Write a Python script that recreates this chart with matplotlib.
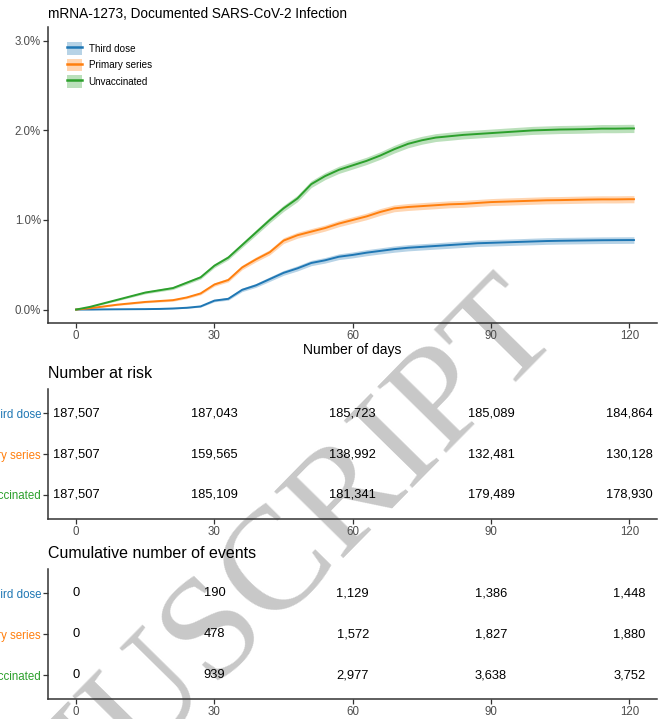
import numpy as np
import matplotlib
matplotlib.use("Agg")
import matplotlib.pyplot as plt
from matplotlib.patches import Patch
from matplotlib.lines import Line2D
from matplotlib.ticker import FuncFormatter

plt.rcParams["font.family"] = ["Liberation Sans", "DejaVu Sans"]

# ---- data -------------------------------------------------------------
groups = ["Third dose", "Primary series", "Unvaccinated"]
colors = ["#1f77b4", "#ff7f0e", "#2ca02c"]

days = np.array([0, 3, 6, 9, 12, 15, 18, 21, 24, 27, 30, 33, 36, 39, 42, 45,
                 48, 51, 54, 57, 60, 63, 66, 69, 72, 75, 78, 81, 84, 87, 90,
                 93, 96, 99, 102, 105, 108, 111, 114, 117, 120, 121])

# cumulative incidence, %
cum_third = [0, 0, 0.002, 0.003, 0.004, 0.005, 0.007, 0.012, 0.02, 0.035,
             0.10, 0.12, 0.22, 0.27, 0.34, 0.41, 0.46, 0.52, 0.55, 0.59,
             0.61, 0.635, 0.655, 0.675, 0.69, 0.70, 0.71, 0.72, 0.73, 0.74,
             0.745, 0.75, 0.755, 0.76, 0.765, 0.768, 0.77, 0.772, 0.774,
             0.775, 0.776, 0.776]
cum_primary = [0, 0.015, 0.035, 0.055, 0.07, 0.085, 0.095, 0.105, 0.135, 0.18,
               0.28, 0.33, 0.47, 0.56, 0.64, 0.77, 0.83, 0.87, 0.91, 0.96,
               1.00, 1.04, 1.09, 1.13, 1.145, 1.155, 1.165, 1.175, 1.18, 1.19,
               1.20, 1.205, 1.21, 1.215, 1.22, 1.222, 1.225, 1.228, 1.23,
               1.23, 1.232, 1.232]
cum_unvacc = [0, 0.03, 0.07, 0.11, 0.15, 0.19, 0.215, 0.24, 0.30, 0.36,
              0.49, 0.58, 0.72, 0.86, 1.00, 1.13, 1.24, 1.40, 1.49, 1.56,
              1.61, 1.66, 1.72, 1.79, 1.85, 1.89, 1.92, 1.935, 1.95, 1.96,
              1.97, 1.98, 1.99, 2.00, 2.005, 2.01, 2.012, 2.015, 2.02,
              2.02, 2.022, 2.022]

# half-width of the 95% confidence band, %
ci_third = [0, 0, 0.002, 0.002, 0.003, 0.003, 0.004, 0.005, 0.006, 0.008,
            0.013, 0.015, 0.020, 0.022, 0.025, 0.027, 0.029, 0.030, 0.031,
            0.032, 0.033, 0.034, 0.034, 0.035, 0.035, 0.035, 0.035, 0.036,
            0.036, 0.036, 0.036, 0.036, 0.036, 0.037, 0.037, 0.037, 0.037,
            0.037, 0.037, 0.037, 0.037, 0.037]
ci_primary = [0, 0.004, 0.007, 0.008, 0.010, 0.010, 0.011, 0.012, 0.013,
              0.015, 0.019, 0.021, 0.025, 0.027, 0.029, 0.032, 0.033, 0.034,
              0.034, 0.035, 0.036, 0.037, 0.038, 0.038, 0.039, 0.039, 0.039,
              0.039, 0.039, 0.039, 0.039, 0.040, 0.040, 0.040, 0.040, 0.040,
              0.040, 0.040, 0.040, 0.040, 0.040, 0.040]
ci_unvacc = [0, 0.006, 0.009, 0.011, 0.012, 0.014, 0.015, 0.016, 0.018,
             0.019, 0.022, 0.024, 0.027, 0.030, 0.032, 0.034, 0.036, 0.038,
             0.039, 0.040, 0.041, 0.041, 0.042, 0.043, 0.044, 0.044, 0.044,
             0.045, 0.045, 0.045, 0.045, 0.045, 0.045, 0.045, 0.045, 0.045,
             0.045, 0.045, 0.046, 0.046, 0.046, 0.046]

table_days = [0, 30, 60, 90, 120]
at_risk_third = [187507, 187043, 185723, 185089, 184864]
at_risk_primary = [187507, 159565, 138992, 132481, 130128]
at_risk_unvacc = [187507, 185109, 181341, 179489, 178930]
events_third = [0, 190, 1129, 1386, 1448]
events_primary = [0, 478, 1572, 1827, 1880]
events_unvacc = [0, 939, 2977, 3638, 3752]

y_ticks = [0, 1, 2, 3]

# ---- layout helpers ---------------------------------------------------
W, H = 670, 719
fig = plt.figure(figsize=(W / 100, H / 100), dpi=100)


def box(left, top, right, bottom):
    return [left / W, 1 - bottom / H, (right - left) / W, (bottom - top) / H]


AXIS_COL = "#333333"
TICK_TXT = "#4d4d4d"
XLIM = (-6.1, 126.0)


def style_axes(a):
    a.patch.set_visible(False)
    for s in ("top", "right"):
        a.spines[s].set_visible(False)
    for s in ("left", "bottom"):
        a.spines[s].set_color(AXIS_COL)
        a.spines[s].set_linewidth(1.1)
    a.tick_params(axis="both", length=3.5, width=0.9, color=AXIS_COL,
                  labelcolor=TICK_TXT, labelsize=8.3, pad=1.5)


# ---- cumulative incidence curves ---------------------------------------
ax = fig.add_axes(box(48, 27.4, 657, 323))
style_axes(ax)
series = [(cum_third, ci_third), (cum_primary, ci_primary),
          (cum_unvacc, ci_unvacc)]
for (vals, ci), col in zip(series, colors):
    v = np.asarray(vals)
    c = np.asarray(ci)
    ax.fill_between(days, v - c, v + c, color=col, alpha=0.32, lw=0)
    ax.plot(days, v, color=col, lw=1.4, solid_joinstyle="miter")

ax.set_xlim(*XLIM)
ax.set_ylim(-0.15, 3.15)
ax.set_xticks(table_days)
ax.set_yticks(y_ticks)
ax.yaxis.set_major_formatter(FuncFormatter(lambda v, p: f"{v:.1f}%"))
ax.set_xlabel("Number of days", fontsize=10, color="black", labelpad=0.5)

handles = [(Patch(facecolor=c, alpha=0.32, lw=0),
            Line2D([], [], color=c, lw=1.8)) for c in colors]
ax.legend(handles, groups, loc="upper left", bbox_to_anchor=(0.031, 0.95),
          frameon=False, fontsize=7.1, handlelength=1.5, handleheight=1.6,
          handletextpad=0.7, labelspacing=0.4, borderaxespad=0,
          borderpad=0)

fig.text(48 / W, 1 - 14 / H, "mRNA-1273, Documented SARS-CoV-2 Infection",
         fontsize=9.8, ha="left", va="center")


# ---- risk tables ------------------------------------------------------
def table(top, bottom, title, title_y, rows):
    t = fig.add_axes(box(48, top, 657, bottom))
    style_axes(t)
    for i, vals in enumerate(rows):
        y = 3 - i
        for d, v in zip(table_days, vals):
            t.text(d, y, f"{v:,}", ha="center", va="center", fontsize=9.3,
                   color="black")
    t.set_xlim(*XLIM)
    t.set_ylim(0.42, 3.58)
    t.set_xticks(table_days)
    t.set_yticks([3, 2, 1])
    t.set_yticklabels(groups)
    for lab, col in zip(t.get_yticklabels(), colors):
        lab.set_color(col)
    fig.text(48 / W, 1 - title_y / H, title, fontsize=11.5, ha="left",
             va="center")
    return t


table(389.3, 518.7, "Number at risk", 374,
      [at_risk_third, at_risk_primary, at_risk_unvacc])
table(569.3, 699.0, "Cumulative number of events", 553,
      [events_third, events_primary, events_unvacc])

# ---- watermark --------------------------------------------------------
fig.text(563 / W, 1 - 330 / H, "MANUSCRIPT", rotation=45.5,
         rotation_mode="anchor", ha="right", va="baseline", fontsize=106,
         family=["Liberation Serif", "DejaVu Serif"], color="#c8c8c8",
         zorder=-5)

fig.savefig("out.png", dpi=100)
